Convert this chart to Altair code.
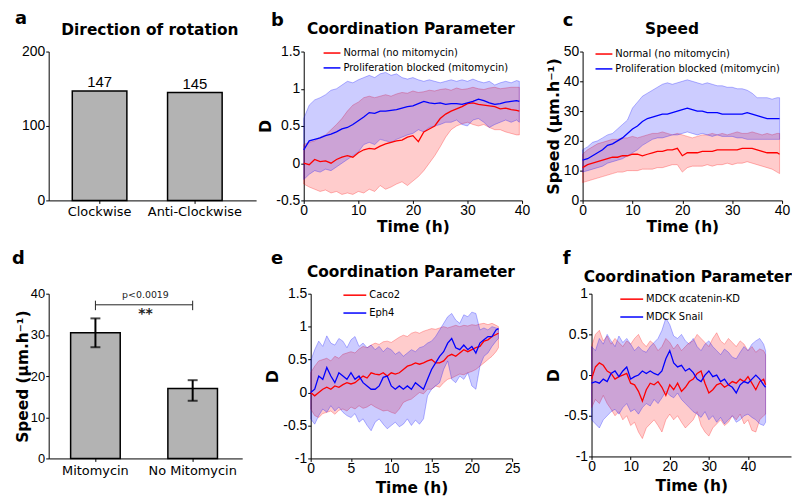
import altair as alt
import pandas as pd

FONT_T = "DejaVu Sans"
FONT_N = "Liberation Sans"
RED = "#ff0000"
BLUE = "#0000ff"

# ---------------- panel a ----------------
rot_cats = ["Clockwise", "Anti-Clockwise"]
rot_counts = [147, 145]

# ---------------- panel d ----------------
spd_cats = ["Mitomycin", "No Mitomycin"]
spd_mean = [30.5, 17.0]
spd_err_lo = [27.0, 14.0]
spd_err_hi = [34.0, 19.0]
sig_text = "p<0.0019"
sig_stars = "**"
sig_y = 37.3
sig_tick_lo = 36.0
sig_tick_hi = 38.3
sig_text_y = 38.4
sig_stars_y = 36.8

# ---------------- panel b ----------------
t_bc = list(range(40)) + [39.5]
b_names = ["Normal (no mitomycin)", "Proliferation blocked (mitomycin)"]
b_red_mean = [0.00,-0.02,0.05,0.02,0.03,0.00,0.05,0.08,0.10,0.08,0.14,0.18,0.20,0.19,0.23,0.26,0.28,0.30,0.31,0.35,
              0.37,0.29,0.42,0.46,0.50,0.60,0.66,0.70,0.73,0.76,0.80,0.81,0.79,0.78,0.77,0.76,0.73,0.74,0.72,0.71,0.70]
b_red_hi = [0.25,0.28,0.30,0.35,0.38,0.45,0.52,0.60,0.70,0.78,0.82,0.88,0.90,0.88,0.90,0.92,0.90,0.93,0.95,0.94,
            0.97,0.95,0.96,0.98,0.97,0.99,1.00,0.98,1.01,0.99,1.00,1.02,1.00,0.99,1.01,1.02,1.00,1.01,1.02,1.02,1.02]
b_red_lo = [-0.28,-0.32,-0.35,-0.38,-0.36,-0.40,-0.38,-0.42,-0.40,-0.42,-0.38,-0.40,-0.35,-0.38,-0.30,-0.35,-0.32,-0.28,-0.25,-0.30,
            -0.24,-0.18,-0.10,0.00,0.10,0.22,0.35,0.45,0.50,0.53,0.55,0.52,0.50,0.52,0.48,0.45,0.45,0.42,0.40,0.38,0.38]
b_blue_mean = [0.18,0.30,0.32,0.34,0.37,0.39,0.42,0.46,0.48,0.52,0.57,0.62,0.68,0.67,0.70,0.70,0.71,0.72,0.74,0.76,
               0.77,0.80,0.83,0.81,0.80,0.81,0.79,0.80,0.80,0.79,0.81,0.83,0.86,0.84,0.81,0.79,0.80,0.82,0.83,0.84,0.83]
b_blue_hi = [0.60,0.78,0.85,0.88,0.92,0.98,1.00,1.05,1.10,1.08,1.12,1.15,1.18,1.15,1.20,1.22,1.18,1.20,1.15,1.13,
             1.15,1.12,1.10,1.12,1.10,1.08,1.10,1.12,1.10,1.12,1.10,1.13,1.10,1.08,1.10,1.05,1.08,1.10,1.08,1.11,1.10]
b_blue_lo = [-0.22,-0.15,-0.10,-0.12,-0.08,-0.10,-0.05,0.00,0.05,0.10,0.15,0.25,0.28,0.25,0.32,0.30,0.28,0.32,0.35,0.38,
             0.40,0.45,0.42,0.48,0.50,0.52,0.55,0.55,0.58,0.52,0.50,0.58,0.60,0.55,0.48,0.52,0.55,0.58,0.55,0.58,0.55]

# ---------------- panel c ----------------
c_red_mean = [11,12,12.5,13,13.5,14,14.5,14.5,15,15,15.5,15.5,15,15.5,16,16.5,16.5,17,17,17.5,
              15,16,16,16,16.5,16.5,16.5,17,17,17,17,17,17.5,17.5,17.5,17,16.5,16,16,16,15.5]
c_red_hi = [15.5,17,18,19,19.5,20,20.5,20.5,21,21,21.5,21,21.5,22,22.5,22.5,23,22.5,22,22.5,
            22,21.5,21,21.5,22,22,22.5,22,22.5,22,22.5,23,22.5,22.5,23,22.5,22,22.5,22,22.5,22.5]
c_red_lo = [6,6.5,7,7.5,8,8.5,9,9.5,9.5,10,10,10,10.5,10.5,10.5,11,11,11.5,12,12,
            9.5,11,11.5,11.5,11.5,12,11.5,12,12,12.5,12,12.5,12.5,13,12.5,12,11.5,11,10.5,9.5,9]
c_blue_mean = [13.5,14,15,16,17,18.5,19,20,21,22.5,24,25,26.5,27.5,28,28.5,29,29,29.5,30,
               30.5,31,30.5,30,30,29.5,29.5,29.5,29,29,29,29,29,29.5,29,28.5,28,27.5,27.5,27.5,27.5]
c_blue_hi = [17,18,19.5,20,21,22,22.5,24,25.5,27,31,33,35,36,37,38,39,39.5,39,39.5,
             40,40.5,40,39.5,39,39.5,39,38.5,38.5,38,38,37.5,37.5,37,36,34.5,34.5,34.5,34,34.5,34.5]
c_blue_lo = [9.5,10,10.5,11,11.5,12.5,13,13.5,14,15,16,17,18.5,19.5,20.5,21,21,21.5,22,22,
             22.5,23,22.5,22,22.5,22,21.5,22,21.5,21.5,21.5,21,21,20.5,20.5,20.5,20.5,20.5,20.5,20.5,20.5]

# ---------------- panel e ----------------
t_e = [i * 0.5 for i in range(47)] + [23.3]
e_names = ["Caco2", "Eph4"]
e_red_mean = [0.0,-0.05,0.0,0.05,0.08,0.05,0.10,0.08,0.12,0.15,0.13,0.15,0.20,0.25,0.22,0.30,0.28,0.27,0.30,0.25,
              0.30,0.28,0.30,0.35,0.40,0.42,0.45,0.43,0.45,0.48,0.50,0.45,0.45,0.48,0.55,0.58,0.55,0.60,0.65,0.62,
              0.65,0.68,0.70,0.78,0.80,0.85,0.88,0.90]
e_red_hi = [0.30,0.40,0.48,0.50,0.52,0.48,0.55,0.52,0.58,0.60,0.62,0.60,0.66,0.70,0.68,0.72,0.75,0.73,0.77,0.78,
            0.76,0.80,0.84,0.87,0.85,0.90,0.92,0.90,0.93,0.95,0.97,0.96,0.98,1.00,0.98,1.00,1.02,1.00,1.02,1.01,
            1.03,1.02,1.04,1.05,1.03,1.05,1.02,1.00]
e_red_lo = [-0.25,-0.35,-0.38,-0.32,-0.30,-0.28,-0.33,-0.27,-0.25,-0.28,-0.22,-0.25,-0.20,-0.24,-0.22,-0.18,-0.22,-0.25,-0.28,-0.27,
            -0.30,-0.32,-0.25,-0.15,-0.12,-0.10,-0.05,0.00,-0.02,0.05,0.05,0.10,0.08,0.15,0.20,0.22,0.25,0.28,0.27,0.30,
            0.32,0.35,0.40,0.45,0.50,0.55,0.62,0.68]
e_blue_mean = [0.00,0.05,0.25,0.20,0.38,0.25,0.15,0.30,0.25,0.20,0.30,0.20,0.25,0.15,0.10,0.05,0.05,0.10,0.23,0.25,
               0.10,0.05,0.10,0.05,0.10,0.05,0.15,0.10,0.05,0.20,0.35,0.45,0.55,0.62,0.75,0.82,0.68,0.65,0.72,0.65,
               0.70,0.60,0.75,0.80,0.85,0.85,0.95,0.97]
e_blue_hi = [0.48,0.65,0.78,0.70,0.86,0.75,0.72,0.82,0.78,0.68,0.80,0.85,0.70,0.75,0.68,0.72,0.65,0.70,0.62,0.68,
             0.65,0.58,0.62,0.55,0.60,0.65,0.62,0.68,0.70,0.75,0.78,0.85,0.95,1.05,1.15,1.20,1.10,1.05,1.18,1.15,
             1.22,1.20,0.95,0.98,0.95,1.00,0.98,0.97]
e_blue_lo = [-0.40,-0.48,-0.35,-0.25,-0.30,-0.20,-0.28,-0.22,-0.30,-0.35,-0.38,-0.32,-0.45,-0.40,-0.50,-0.58,-0.45,-0.40,-0.48,-0.55,
             -0.50,-0.45,-0.52,-0.48,-0.40,-0.50,-0.42,-0.48,-0.40,-0.05,0.05,0.10,0.15,0.35,0.48,0.20,0.15,0.25,0.20,0.30,
             0.10,0.05,0.40,0.55,0.60,0.70,0.78,0.82]

# ---------------- panel f ----------------
t_f = list(range(45)) + [44.5]
f_names = ["MDCK \u03b1catenin-KD", "MDCK Snail"]
f_red_mean = [-0.05,0.10,0.15,0.12,0.05,0.02,-0.05,-0.02,0.00,0.02,-0.10,-0.12,-0.20,-0.32,-0.18,-0.10,-0.12,-0.08,-0.15,-0.25,
              -0.12,-0.18,-0.10,-0.20,-0.15,-0.08,-0.05,0.02,0.05,-0.10,-0.22,-0.18,-0.12,-0.10,-0.15,-0.12,-0.08,-0.10,-0.05,-0.08,
              -0.02,-0.10,-0.18,-0.08,-0.05,-0.12]
f_red_hi = [0.35,0.50,0.55,0.42,0.48,0.38,0.45,0.40,0.35,0.42,0.38,0.45,0.50,0.40,0.35,0.42,0.38,0.30,0.35,0.45,
            0.40,0.32,0.38,0.30,0.35,0.40,0.42,0.50,0.45,0.40,0.35,0.45,0.52,0.42,0.38,0.45,0.40,0.35,0.42,0.38,
            0.30,0.35,0.28,0.32,0.30,0.25]
f_red_lo = [-0.40,-0.30,-0.35,-0.25,-0.35,-0.42,-0.50,-0.45,-0.55,-0.50,-0.62,-0.58,-0.70,-0.78,-0.65,-0.60,-0.55,-0.62,-0.70,-0.55,
            -0.48,-0.55,-0.50,-0.58,-0.65,-0.60,-0.55,-0.45,-0.62,-0.70,-0.75,-0.65,-0.60,-0.55,-0.62,-0.58,-0.50,-0.55,-0.48,-0.60,
            -0.55,-0.68,-0.70,-0.55,-0.50,-0.48]
f_blue_mean = [-0.10,-0.08,-0.10,-0.05,-0.08,0.02,0.05,-0.02,0.05,0.10,-0.05,-0.02,0.00,0.05,0.02,0.05,0.02,0.00,0.05,0.20,
               0.30,0.15,0.10,0.12,0.05,0.08,0.03,-0.05,-0.08,0.00,0.05,-0.02,0.00,-0.08,-0.05,-0.12,-0.15,-0.22,-0.12,-0.08,
               -0.10,-0.05,0.00,-0.05,-0.12,-0.15]
f_blue_hi = [0.35,0.30,0.45,0.38,0.50,0.42,0.35,0.48,0.40,0.45,0.38,0.30,0.35,0.30,0.28,0.35,0.40,0.45,0.55,0.70,
             0.62,0.48,0.45,0.50,0.42,0.38,0.45,0.35,0.30,0.38,0.42,0.35,0.30,0.25,0.32,0.28,0.22,0.20,0.28,0.35,
             0.30,0.38,0.42,0.45,0.38,0.30]
f_blue_lo = [-0.55,-0.60,-0.65,-0.55,-0.50,-0.45,-0.42,-0.48,-0.40,-0.35,-0.45,-0.42,-0.48,-0.40,-0.35,-0.38,-0.30,-0.35,-0.28,-0.20,
             -0.25,-0.28,-0.22,-0.30,-0.35,-0.40,-0.45,-0.48,-0.52,-0.45,-0.55,-0.50,-0.58,-0.52,-0.60,-0.55,-0.50,-0.58,-0.55,-0.50,
             -0.48,-0.52,-0.55,-0.60,-0.62,-0.58]


def text_layer(txt, dx, dy, size, align):
    return alt.Chart(pd.DataFrame({"l": [txt]})).mark_text(
        font=FONT_T, fontSize=size, fontWeight="bold", align=align,
        baseline="alphabetic", color="black"
    ).encode(text="l:N", x=alt.value(dx), y=alt.value(dy))


def heads(letter, ldx, ldy, title, tdx, tdy):
    return [text_layer(letter, ldx, ldy, 18, "left"), text_layer(title, tdx, tdy, 15.5, "center")]


def ts_panel(t, names, series, xdom, xvals, ydom, yvals, ytitle, head_layers,
             lx, ly, row_pad, sym, w, h, xtitle_pad=0):
    colors = [RED, BLUE]
    x = alt.X("t:Q", scale=alt.Scale(domain=xdom, nice=False, zero=False),
              axis=alt.Axis(values=xvals, title="Time (h)", titlePadding=xtitle_pad))
    ysc = alt.Scale(domain=ydom, nice=False, zero=False)
    yax = alt.Axis(values=yvals, title=ytitle, labelExpr="'' + datum.value")
    layers = []
    rows = []
    for name, col, (m, lo, hi) in zip(names, colors, series):
        sdf = pd.DataFrame({"t": t, "lo": lo, "hi": hi})
        layers.append(alt.Chart(sdf).mark_area(
            fill=col, fillOpacity=0.2, stroke=col, strokeOpacity=0.35, strokeWidth=0.8
        ).encode(x=x, y=alt.Y("lo:Q", scale=ysc, axis=yax), y2="hi:Q"))
        for ti, mi in zip(t, m):
            rows.append({"t": ti, "m": mi, "s": name})
    df = pd.DataFrame(rows)
    line = alt.Chart(df).mark_line(strokeWidth=1.3).encode(
        x=x,
        y=alt.Y("m:Q", scale=ysc, axis=yax),
        color=alt.Color("s:N", scale=alt.Scale(domain=names, range=colors), sort=names,
                        legend=alt.Legend(orient="none", legendX=lx, legendY=ly, title=None,
                                          symbolType="stroke", symbolSize=sym, symbolStrokeWidth=1.5,
                                          labelFont=FONT_T, labelFontSize=10, labelColor="black",
                                          rowPadding=row_pad, padding=0, labelLimit=400, labelOffset=2)),
    )
    layers.append(line)
    return alt.layer(*layers, *head_layers).properties(width=w, height=h)


# ---- panel a ----
rot_df = pd.DataFrame({"cat": rot_cats, "n": rot_counts})
xa = alt.X("cat:N", sort=rot_cats, scale=alt.Scale(paddingInner=0.427, paddingOuter=0.302, align=0.41),
           axis=alt.Axis(title=None, labelAngle=0, labelFont=FONT_T, labelFontSize=13, labelPadding=2))
ya = alt.Y("n:Q", scale=alt.Scale(domain=[0, 200], nice=False),
           axis=alt.Axis(values=[0, 100, 200], title=None))
a_bars = alt.Chart(rot_df).mark_bar(color="#b3b3b3", stroke="black", strokeWidth=1.5).encode(x=xa, y=ya)
a_text = alt.Chart(rot_df).mark_text(baseline="bottom", dy=-1, font=FONT_N, fontSize=15, color="black").encode(
    x=xa, y=ya, text="n:Q")
panel_a = alt.layer(a_bars, a_text, *heads("a", -34, -28, "Direction of rotation", 102, -17)).properties(
    width=209, height=150)

# ---- panel b ----
panel_b = ts_panel(t_bc, b_names, [(b_red_mean, b_red_lo, b_red_hi), (b_blue_mean, b_blue_lo, b_blue_hi)],
                   [0, 40], [0, 10, 20, 30, 40], [-0.5, 1.5], [-0.5, 0, 0.5, 1, 1.5], "D",
                   heads("b", -33, -26, "Coordination Parameter", 108, -18),
                   19, -8, -5, 289, 220, 150, xtitle_pad=2)

# ---- panel c ----
panel_c = ts_panel(t_bc, b_names, [(c_red_mean, c_red_lo, c_red_hi), (c_blue_mean, c_blue_lo, c_blue_hi)],
                   [0, 40], [0, 10, 20, 30, 40], [0, 50], [0, 10, 20, 30, 40, 50], "Speed (\u00b5m.h\u207b\u00b9)",
                   heads("c", -20, -26, "Speed", 90, -18),
                   12, -7, -5, 289, 201, 150, xtitle_pad=2)

# ---- panel d ----
spd_df = pd.DataFrame({"cat": spd_cats, "m": spd_mean, "lo": spd_err_lo, "hi": spd_err_hi})
xd = alt.X("cat:N", sort=spd_cats, scale=alt.Scale(paddingInner=0.49, paddingOuter=0.24, align=0.47),
           axis=alt.Axis(title=None, labelAngle=0, labelFont=FONT_T, labelFontSize=13, labelPadding=3))
yd_scale = alt.Scale(domain=[0, 40], nice=False)
yd = alt.Y("m:Q", scale=yd_scale, axis=alt.Axis(values=list(range(0, 41, 5)), title="Speed (\u00b5m.h\u207b\u00b9)",
                                                 labelFontSize=13, titlePadding=0, titleFontSize=15.5))
d_bars = alt.Chart(spd_df).mark_bar(color="#b3b3b3", stroke="black", strokeWidth=1.5).encode(x=xd, y=yd)
d_err = alt.Chart(spd_df).mark_rule(color="black", strokeWidth=2).encode(
    x=xd, y=alt.Y("lo:Q", scale=yd_scale), y2="hi:Q")
d_cap_lo = alt.Chart(spd_df).mark_tick(color="black", size=10, thickness=2).encode(
    x=xd, y=alt.Y("lo:Q", scale=yd_scale))
d_cap_hi = alt.Chart(spd_df).mark_tick(color="black", size=10, thickness=2).encode(
    x=xd, y=alt.Y("hi:Q", scale=yd_scale))
br_df = pd.DataFrame({"cat": spd_cats, "y": [sig_y, sig_y], "lo": [sig_tick_lo] * 2, "hi": [sig_tick_hi] * 2})
d_br = alt.Chart(br_df).mark_line(color="#222", strokeWidth=1).encode(x=xd, y=alt.Y("y:Q", scale=yd_scale))
d_br_ends = alt.Chart(br_df).mark_rule(color="#222", strokeWidth=1).encode(
    x=xd, y=alt.Y("lo:Q", scale=yd_scale), y2="hi:Q")
ann_df = pd.DataFrame({"txt": [sig_text], "y": [sig_text_y]})
d_p = alt.Chart(ann_df).mark_text(font=FONT_T, fontSize=9.5, color="#222", baseline="bottom").encode(
    text="txt:N", x=alt.value(97.5), y=alt.Y("y:Q", scale=yd_scale))
star_df = pd.DataFrame({"txt": [sig_stars], "y": [sig_stars_y]})
d_s = alt.Chart(star_df).mark_text(font=FONT_T, fontSize=14, fontWeight="bold", color="#222", baseline="top").encode(
    text="txt:N", x=alt.value(97.5), y=alt.Y("y:Q", scale=yd_scale))
panel_d = alt.layer(d_bars, d_err, d_cap_lo, d_cap_hi, d_br, d_br_ends, d_p, d_s,
                    text_layer("d", -37, -30, 18, "left")).properties(width=195, height=166)

# ---- panel e ----
panel_e = ts_panel(t_e, e_names, [(e_red_mean, e_red_lo, e_red_hi), (e_blue_mean, e_blue_lo, e_blue_hi)],
                   [0, 25], [0, 5, 10, 15, 20, 25], [-1, 1.5], [-1, -0.5, 0, 0.5, 1, 1.5], "D",
                   heads("e", -40, -30, "Coordination Parameter", 101, -17),
                   32, -11, -4, 529, 203, 166, xtitle_pad=5)

# ---- panel f ----
panel_f = ts_panel(t_f, f_names, [(f_red_mean, f_red_lo, f_red_hi), (f_blue_mean, f_blue_lo, f_blue_hi)],
                   [0, 51], [0, 10, 20, 30, 40], [-1, 1], [-1, -0.5, 0, 0.5, 1], "D",
                   heads("f", -29, -30, "Coordination Parameter", 97, -12),
                   28, -7, -6, 529, 201, 164, xtitle_pad=5)

top = alt.hconcat(
    panel_a,
    alt.hconcat(panel_b, panel_c, spacing=15).resolve_scale(color="independent").resolve_legend(color="independent"),
    spacing=1,
).resolve_scale(color="independent").resolve_legend(color="independent")
bottom = alt.hconcat(
    panel_d,
    alt.hconcat(panel_e, panel_f, spacing=25).resolve_scale(color="independent").resolve_legend(color="independent"),
    spacing=22,
).resolve_scale(color="independent").resolve_legend(color="independent")

chart = alt.vconcat(top, bottom, spacing=15).resolve_scale(color="independent").resolve_legend(
    color="independent"
).properties(
    padding={"left": 4, "top": 0, "right": 0, "bottom": 0}
).configure_view(stroke=None).configure_axis(
    domainColor="black", domainWidth=1, tickColor="black", tickSize=3,
    labelFont=FONT_N, labelFontSize=14, labelColor="black", labelFlush=False,
    titleFont=FONT_T, titleFontSize=16, titleFontWeight="bold", titleColor="black",
    grid=False,
).configure_axisX(labelPadding=0, titlePadding=0, titleFontSize=15.5
).configure_axisY(labelPadding=1, titlePadding=2)

chart.save("out.html", embed_options={"renderer": "svg", "actions": False})
